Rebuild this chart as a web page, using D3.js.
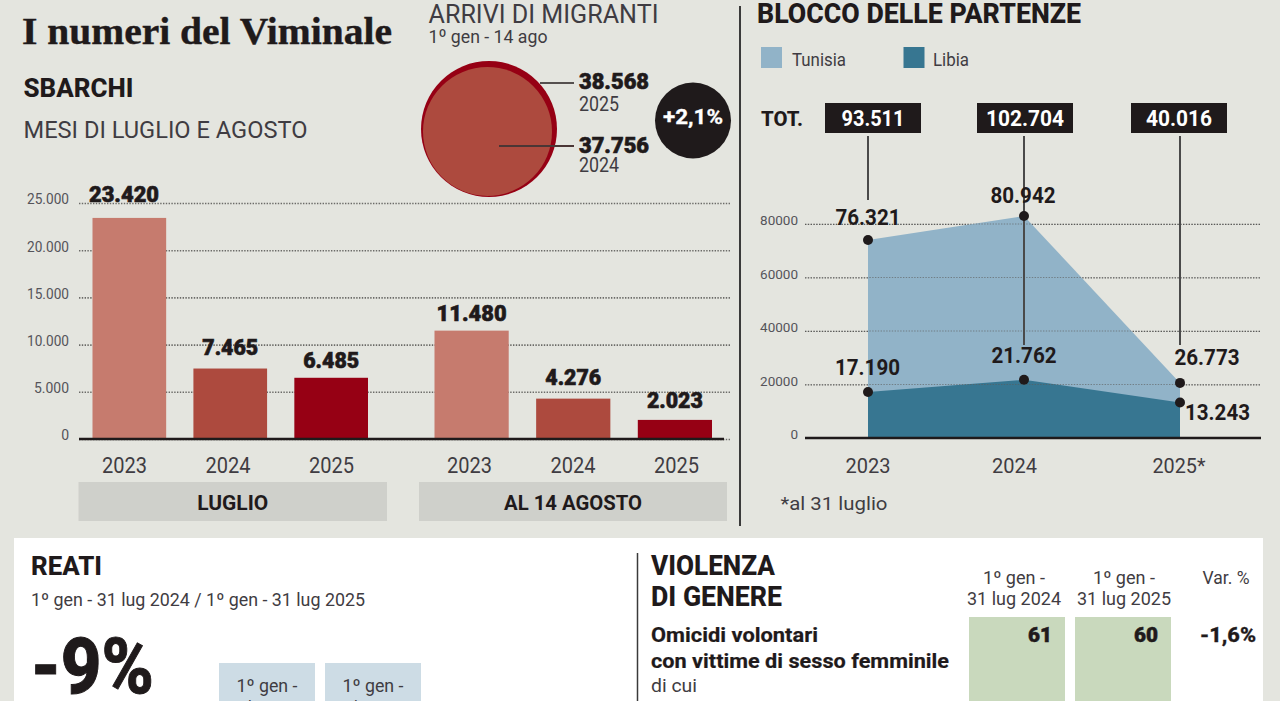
<!DOCTYPE html>
<html>
<head>
<meta charset="utf-8">
<script src="https://cdn.jsdelivr.net/npm/d3@7"></script>
<style>
  html, body { margin: 0; padding: 0; background: #e4e5df; overflow: hidden; }
  text { font-family: Roboto, sans-serif; }
</style>
</head>
<body>
<div id="vis-container"></div>
<script>
// bars, sbarchi
const barYears = ["2023", "2024", "2025"];
const luglio = [23420, 7465, 6485];
const agosto = [11480, 4276, 2023];
const barTicks = [0, 5000, 10000, 15000, 20000, 25000];

// circles, arrivi
const arriviValues = [38568, 37756];
const arriviYears = ["2025", "2024"];

// area chart, blocco delle partenze
const areaYears = ["2023", "2024", "2025*"];
const tunisiaLabels = [76321, 80942, 26773];
const libia = [17190, 21762, 13243];
const totals = [93511, 102704, 40016];
const areaTicks = [0, 20000, 40000, 60000, 80000];
// the Tunisia shape in the picture is not drawn to its printed numbers,
// these are the heights
const tunisiaDrawn = [74000, 83000, 20600];

const width = 1280;
const height = 701;
const dark = "#1f1a1b";
const grey = "#3f3c42";
const barColors = ["#c67b6e", "#ad4a3e", "#960014"];

const it = d3.formatLocale({ decimal: ",", thousands: ".", grouping: [3], currency: ["", "€"] });
const num = it.format(",d");

const svg = d3.select("#vis-container")
              .append("svg")
              .attr("width", width)
              .attr("height", height)
              .attr("viewBox", [0, 0, width, height])
              .style("display", "block");

svg.append("rect").attr("width", width).attr("height", height).attr("fill", "#e4e5df");

// w = the width the text has in the picture, the fonts here are not the same
function label(parent, x, y, str, size, weight, color, anchor, w) {
  const t = parent.append("text")
    .attr("x", x)
    .attr("y", y)
    .attr("font-size", size)
    .attr("font-weight", weight)
    .attr("fill", color)
    .attr("text-anchor", anchor || "start")
    .text(str);
  if (w) t.attr("textLength", w).attr("lengthAdjust", "spacingAndGlyphs");
  return t;
}

// the heavy numbers of the picture are blacker than Roboto's bold
function heavy(t, amount) {
  return t.attr("stroke", t.attr("fill")).attr("stroke-width", amount || 0.6);
}

// headers
heavy(label(svg, 22, 43.5, "I numeri del Viminale", 38, 700, dark, "start", 370), 0.4).style("font-family", "'Liberation Serif', serif");
label(svg, 428.5, 23, "ARRIVI DI MIGRANTI", 25, 400, grey, "start", 230);
label(svg, 428.5, 43, "1º gen - 14 ago", 19, 400, grey, "start", 119);
label(svg, 23.5, 96.5, "SBARCHI", 26, 800, dark, "start", 110);
label(svg, 23.5, 138, "MESI DI LUGLIO E AGOSTO", 24, 400, grey, "start", 284);
label(svg, 757, 22.5, "BLOCCO DELLE PARTENZE", 28, 800, dark, "start", 324);

// bar chart
{
  const y = d3.scaleLinear().domain([0, 25000]).range([439, 203]);

  svg.append("g")
    .attr("transform", "translate(79,0)")
    .call(d3.axisLeft(y).tickValues(barTicks).tickFormat(num).tickSize(-652).tickPadding(10))
    .call(g => g.select(".domain").remove())
    .call(g => g.selectAll(".tick line").attr("stroke", "#6b6b68").attr("stroke-width", 1.6).attr("stroke-dasharray", "1.4,1.4"))
    .call(g => g.selectAll(".tick text").attr("font-size", 14).attr("fill", "#55545a").attr("dy", "0.06em").attr("textLength", 42).attr("lengthAdjust", "spacingAndGlyphs"))
    .call(g => g.selectAll(".tick text").filter(d => d == 0).attr("textLength", null))
    .call(g => g.selectAll(".tick text").filter(d => d == 5000).attr("textLength", 35));

  const groups = [
    { values: luglio, range: [92.5, 368], yearRange: [124, 331], name: "LUGLIO", box: [78.5, 387], lift: [16, 13.5, 10], boxText: 71 },
    { values: agosto, range: [434.5, 712], yearRange: [469, 676], name: "AL 14 AGOSTO", box: [419, 727], lift: [10, 14, 12], boxText: 138 }
  ];

  groups.forEach(group => {
    const x = d3.scaleBand().domain(barYears).range(group.range).paddingInner(0.27).paddingOuter(0);

    svg.append("g").selectAll("rect")
      .data(group.values)
      .enter()
      .append("rect")
      .attr("x", (d, i) => x(barYears[i]))
      .attr("y", d => y(d))
      .attr("width", x.bandwidth())
      .attr("height", d => y(0) - y(d))
      .attr("fill", (d, i) => barColors[i]);

    group.values.forEach((d, i) => {
      const cx = (i == 0 && group.name == "LUGLIO") ? 124 : x(barYears[i]) + x.bandwidth() / 2;
      heavy(label(svg, cx, y(d) - group.lift[i], num(d), 22, 900, dark, "middle", d >= 10000 ? 70 : 56));
    });

    const xYears = d3.scalePoint().domain(barYears).range(group.yearRange);
    svg.append("g")
      .attr("transform", "translate(0,473)")
      .call(d3.axisBottom(xYears).tickSize(0).tickPadding(0))
      .call(g => g.select(".domain").remove())
      .call(g => g.selectAll(".tick text").attr("y", 0).attr("dy", 0).attr("font-size", 22).attr("fill", grey).attr("textLength", 45).attr("lengthAdjust", "spacingAndGlyphs"));

    svg.append("rect")
      .attr("x", group.box[0])
      .attr("y", 482)
      .attr("width", group.box[1] - group.box[0])
      .attr("height", 39)
      .attr("fill", "#cfd0cb");
    label(svg, (group.box[0] + group.box[1]) / 2, 510, group.name, 21, 700, dark, "middle", group.boxText);
  });

  svg.append("line")
    .attr("x1", 79).attr("x2", 724)
    .attr("y1", y(0)).attr("y2", y(0))
    .attr("stroke", dark).attr("stroke-width", 2.5);
}

// arrivi circles
{
  const r = d3.scaleLinear().domain([arriviValues[1], arriviValues[0]]).range([64.5, 68]);

  svg.append("circle").attr("cx", 489).attr("cy", 129).attr("r", r(arriviValues[0])).attr("fill", barColors[2]);
  svg.append("circle").attr("cx", 487.5).attr("cy", 131.5).attr("r", r(arriviValues[1])).attr("fill", barColors[1]);

  svg.append("line").attr("x1", 540).attr("x2", 574).attr("y1", 83).attr("y2", 83).attr("stroke", "#55504f").attr("stroke-width", 2.2);
  svg.append("line").attr("x1", 499).attr("x2", 574).attr("y1", 146).attr("y2", 146).attr("stroke", "#4a3635").attr("stroke-width", 2.2);

  heavy(label(svg, 579, 89, num(arriviValues[0]), 22, 900, dark, "start", 70));
  label(svg, 579, 110.5, arriviYears[0], 20, 400, grey, "start", 40);
  heavy(label(svg, 579, 152.5, num(arriviValues[1]), 22, 900, dark, "start", 70));
  label(svg, 579, 172, arriviYears[1], 20, 400, grey, "start", 40);

  svg.append("ellipse").attr("cx", 693).attr("cy", 120.5).attr("rx", 38).attr("ry", 38).attr("fill", dark);
  heavy(label(svg, 693, 124, "+2,1%", 20, 700, "#fff", "middle", 60), 0.3);
}

// divider between the two top charts
svg.append("line").attr("x1", 740).attr("x2", 740).attr("y1", 6).attr("y2", 526).attr("stroke", "#3a3a3a").attr("stroke-width", 2);

// area chart
{
  const x = d3.scalePoint().domain(areaYears).range([868, 1180]);
  const y = d3.scaleLinear().domain([0, 80000]).range([438, 224]);

  // legend
  svg.append("rect").attr("x", 761).attr("y", 47).attr("width", 21).attr("height", 21).attr("fill", "#91b3c8");
  label(svg, 792, 65.5, "Tunisia", 18, 400, grey, "start", 54);
  svg.append("rect").attr("x", 903.5).attr("y", 47).attr("width", 21).attr("height", 21).attr("fill", "#377691");
  label(svg, 933, 65.5, "Libia", 18, 400, grey, "start", 36);

  svg.append("g")
    .attr("transform", "translate(805,0)")
    .call(d3.axisLeft(y).tickValues(areaTicks).tickFormat(d3.format("d")).tickSize(-455).tickPadding(7))
    .call(g => g.select(".domain").remove())
    .call(g => g.selectAll(".tick line").attr("stroke", "#5c5c5a").attr("stroke-width", 1).attr("stroke-dasharray", "1.4,1.4"))
    .call(g => g.selectAll(".tick text").attr("font-size", 13.5).attr("fill", "#55545a").attr("dy", "0.05em"));

  const area = d3.area()
    .x((d, i) => x(areaYears[i]))
    .y0(y(0))
    .y1(d => y(d));

  svg.append("path").datum(tunisiaDrawn).attr("d", area).attr("fill", "#91b3c8");
  svg.append("path").datum(libia).attr("d", area).attr("fill", "#377691");

  // gridlines show through the shapes in the picture
  svg.append("g").selectAll("line")
    .data(areaTicks.filter(d => d > 0))
    .enter()
    .append("line")
    .attr("x1", 805).attr("x2", 1260)
    .attr("y1", d => y(d)).attr("y2", d => y(d))
    .attr("stroke", "#5c5c5a").attr("stroke-opacity", 0.6).attr("stroke-dasharray", "1.4,1.4");

  svg.append("line")
    .attr("x1", 805).attr("x2", 1261)
    .attr("y1", y(0)).attr("y2", y(0))
    .attr("stroke", dark).attr("stroke-width", 2.5);

  // totals
  label(svg, 761, 126, "TOT.", 21, 800, dark, "start", 42);
  const boxLeft = [825, 977, 1131];
  const totalWidth = [63, 78, 66];
  const stemEnd = [200, 345, 345];
  totals.forEach((d, i) => {
    const cx = x(areaYears[i]);
    svg.append("line").attr("x1", cx).attr("x2", cx).attr("y1", 136).attr("y2", stemEnd[i]).attr("stroke", "#4a4a4a").attr("stroke-width", 2);
    svg.append("rect").attr("x", boxLeft[i]).attr("y", 103).attr("width", 96).attr("height", 30).attr("fill", dark);
    label(svg, boxLeft[i] + 48, 126, num(d), 22, 700, "#fff", "middle", totalWidth[i]);
  });

  // points and numbers
  const tunisiaPos = [[868, 225], [1023, 202.5], [1207, 365]];
  const libiaPos = [[867.5, 375], [1024, 363], [1217.5, 419.5]];
  tunisiaDrawn.forEach((d, i) => {
    svg.append("circle").attr("cx", x(areaYears[i])).attr("cy", y(d)).attr("r", 5).attr("fill", dark);
    label(svg, tunisiaPos[i][0], tunisiaPos[i][1], num(tunisiaLabels[i]), 22, 700, dark, "middle", 65);
  });
  libia.forEach((d, i) => {
    svg.append("circle").attr("cx", x(areaYears[i])).attr("cy", y(d)).attr("r", 5).attr("fill", dark);
    label(svg, libiaPos[i][0], libiaPos[i][1], num(d), 22, 700, dark, "middle", 65);
  });

  const xYears = [868, 1014.5, 1179];
  areaYears.forEach((d, i) => label(svg, xYears[i], 473, d, 21, 400, grey, "middle", i == 2 ? 53 : 45));
  label(svg, 780.5, 510, "*al 31 luglio", 19, 400, grey, "start", 107);
}

// bottom panel, cut off by the edge of the picture
{
  svg.append("rect").attr("x", 14).attr("y", 538).attr("width", 1249).attr("height", 163).attr("fill", "#fff");
  svg.append("line").attr("x1", 637.5).attr("x2", 637.5).attr("y1", 553).attr("y2", 701).attr("stroke", "#3a3a3a").attr("stroke-width", 1.5);

  label(svg, 31, 575, "REATI", 25, 800, dark, "start", 71);
  label(svg, 31, 606, "1º gen - 31 lug 2024 / 1º gen - 31 lug 2025", 18, 400, grey, "start", 334);
  heavy(label(svg, 31, 693, "-9%", 78, 800, dark, "start", 123), 1);

  const reatiHeads = ["31 lug 2024", "31 lug 2025"];
  [219, 325].forEach((bx, i) => {
    svg.append("rect").attr("x", bx).attr("y", 663).attr("width", 96).attr("height", 38).attr("fill", "#cddce5");
    label(svg, bx + 48, 692, "1º gen -", 18, 400, grey, "middle", 61);
    label(svg, bx + 48, 714, reatiHeads[i], 18, 400, grey, "middle", 80);
  });

  label(svg, 651, 575, "VIOLENZA", 28, 800, dark, "start", 124);
  label(svg, 651, 606, "DI GENERE", 28, 800, dark, "start", 131);

  [[1014, "31 lug 2024"], [1124, "31 lug 2025"]].forEach(h => {
    label(svg, h[0], 584, "1º gen -", 18, 400, grey, "middle", 62);
    label(svg, h[0], 605, h[1], 18, 400, grey, "middle", 94);
  });
  label(svg, 1226, 584, "Var. %", 18, 400, grey, "middle", 47);

  svg.append("rect").attr("x", 969).attr("y", 617).attr("width", 96).attr("height", 84).attr("fill", "#c9d9bd");
  svg.append("rect").attr("x", 1075).attr("y", 617).attr("width", 96).attr("height", 84).attr("fill", "#c9d9bd");

  heavy(label(svg, 651, 642, "Omicidi volontari", 20, 700, dark, "start", 167), 0.2);
  heavy(label(svg, 651, 668, "con vittime di sesso femminile", 20, 700, dark, "start", 298), 0.2);
  label(svg, 651, 692, "di cui", 19, 400, grey, "start", 46);

  heavy(label(svg, 1052, 642, "61", 20, 900, dark, "end", 24), 0.5);
  heavy(label(svg, 1158, 642, "60", 20, 900, dark, "end", 24), 0.5);
  heavy(label(svg, 1256, 642, "-1,6%", 20, 800, dark, "end", 56), 0.3);
}
</script>
</body>
</html>
